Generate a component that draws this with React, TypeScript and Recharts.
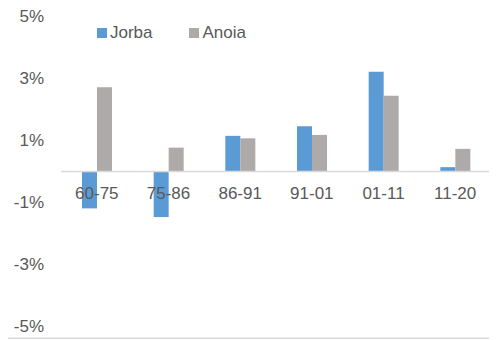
import { BarChart, Bar, XAxis, YAxis, ReferenceLine, Legend } from "recharts"

const periods = ["60-75", "75-86", "86-91", "91-01", "01-11", "11-20"]
const jorba = [-1.19, -1.47, 1.15, 1.46, 3.22, 0.14]
const anoia = [2.72, 0.77, 1.07, 1.18, 2.44, 0.73]
const yTicks = [5, 3, 1, -1, -3, -5]

const data = periods.map((period, i) => ({ period, jorba: jorba[i], anoia: anoia[i] }))

const series = [
  { key: "jorba", name: "Jorba", color: "#5B9BD5" },
  { key: "anoia", name: "Anoia", color: "#ADAAA9" },
]

const WIDTH = 497
const HEIGHT = 340
const MARGIN = { top: 16.5, right: 6, bottom: 12.5, left: 7 }
const Y_AXIS_W = 54
const X_AXIS_H = 1
const PLOT_H = HEIGHT - MARGIN.top - MARGIN.bottom - X_AXIS_H
// y domain is symmetric, so the zero line sits half way down the plot
const ZERO_Y = MARGIN.top + PLOT_H / 2
const Y_LABEL_RIGHT = MARGIN.left + Y_AXIS_W - 17

const textColor = "#595959"
const font = "'Liberation Sans', Arial, sans-serif"

function PeriodTick(props: any) {
  const { x, payload } = props
  return (
    <text x={x} y={ZERO_Y + 22} textAnchor="middle" dominantBaseline="central"
      fill={textColor} fontSize={17} fontFamily={font}>
      {payload.value}
    </text>
  )
}

function PercentTick(props: any) {
  const { y, payload } = props
  return (
    <text x={Y_LABEL_RIGHT} y={y} textAnchor="end" dominantBaseline="central"
      fill={textColor} fontSize={17} fontFamily={font}>
      {`${payload.value}%`}
    </text>
  )
}

function LegendContent() {
  return (
    <div style={{ display: "flex", alignItems: "center" }}>
      {series.map((s) => (
        <div key={s.key} style={{ display: "flex", alignItems: "center", marginRight: 36.5 }}>
          <span style={{ width: 10, height: 10, background: s.color, marginRight: 3.5 }} />
          <span style={{ color: textColor, fontSize: 17, fontFamily: font, lineHeight: "20px" }}>{s.name}</span>
        </div>
      ))}
    </div>
  )
}

export default function App() {
  return (
    <div style={{ position: "relative", width: WIDTH, height: HEIGHT, marginLeft: -8, marginTop: -8, background: "#fff" }}>
      <BarChart width={WIDTH} height={HEIGHT} data={data} margin={MARGIN} barSize={15} barGap={0}>
        <rect x={6.75} y={1.75} width={520} height={336.5} fill="none" stroke="#D9D9D9" strokeWidth={1.5} />
        <XAxis dataKey="period" axisLine={false} tickLine={false} height={X_AXIS_H} tick={<PeriodTick />} interval={0} />
        <YAxis
          domain={[-5, 5]}
          ticks={yTicks}
          width={Y_AXIS_W}
          axisLine={false}
          tickLine={false}
          tick={<PercentTick />}
        />
        <ReferenceLine y={0} stroke="#D9D9D9" strokeWidth={1.5} />
        <Legend
          layout="horizontal"
          verticalAlign="middle"
          align="center"
          wrapperStyle={{ top: 23, left: 96.5, width: "auto" }}
          content={<LegendContent />}
        />
        {series.map((s) => (
          <Bar key={s.key} dataKey={s.key} name={s.name} fill={s.color} isAnimationActive={false} />
        ))}
      </BarChart>
    </div>
  )
}
